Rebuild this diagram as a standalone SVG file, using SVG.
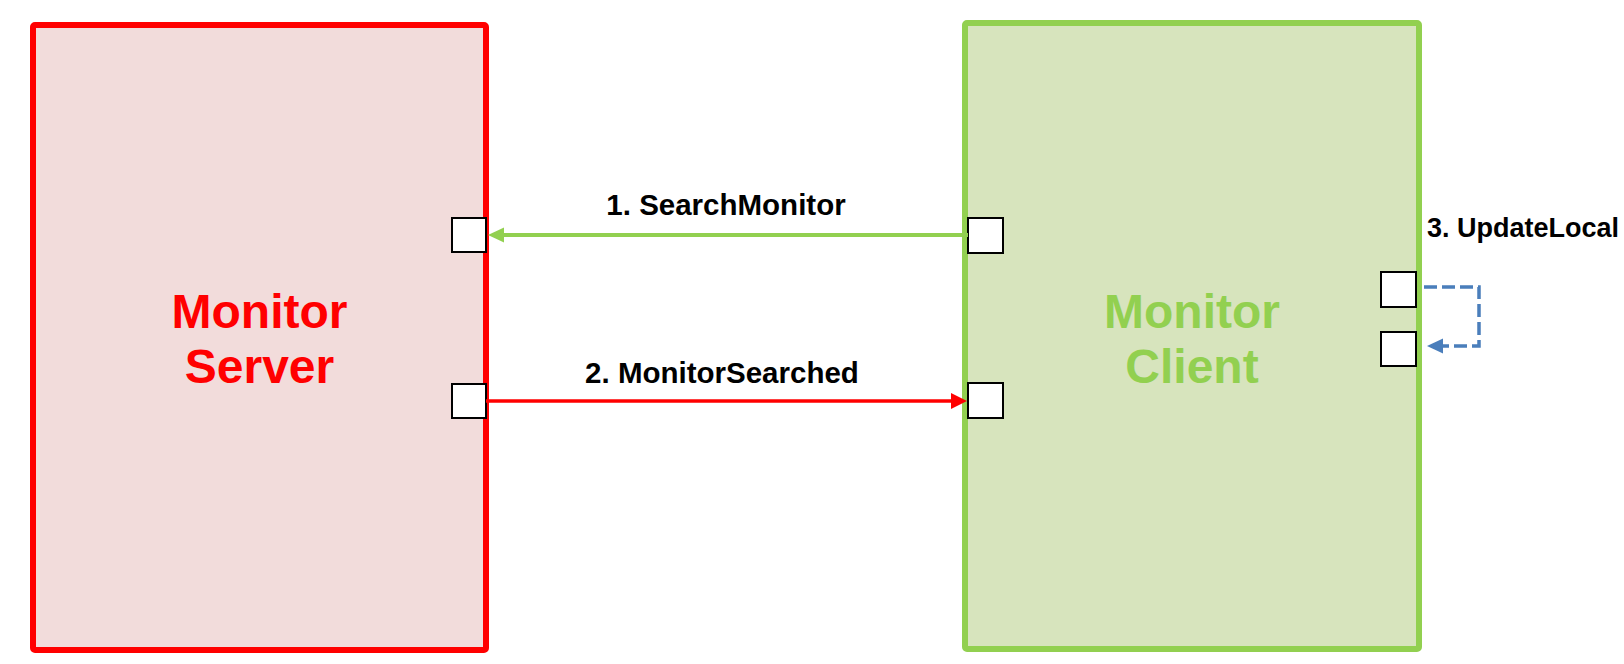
<svg xmlns="http://www.w3.org/2000/svg" width="1624" height="664" viewBox="0 0 1624 664">
<style>
.port{fill:#ffffff;stroke:#000000;stroke-width:2}
.lbl{font-family:"Liberation Sans",Arial,Helvetica,sans-serif;font-weight:bold;font-size:29.5px;fill:#000000}
.title{font-family:"Liberation Sans",Arial,Helvetica,sans-serif;font-weight:bold;font-size:48px;text-anchor:middle}
</style>
<rect width="1624" height="664" fill="#ffffff"/>
<g id="server">
<rect x="33" y="25" width="453" height="625" rx="2" fill="#f2dcdb" stroke="#ff0000" stroke-width="6"/>
<text class="title" fill="#ff0000" x="259.5" y="328">Monitor</text>
<text class="title" fill="#ff0000" x="259.5" y="383">Server</text>
<rect class="port" x="452" y="218" width="34" height="34"/>
<rect class="port" x="452" y="384" width="34" height="34"/>
</g>
<g id="client">
<rect x="965" y="23" width="454" height="626" rx="2" fill="#d7e4bd" stroke="#92d050" stroke-width="6"/>
<text class="title" fill="#92d050" x="1192" y="328">Monitor</text>
<text class="title" fill="#92d050" x="1192" y="383">Client</text>
<rect class="port" x="968" y="218" width="35" height="35"/>
<rect class="port" x="968" y="383" width="35" height="35"/>
<rect class="port" x="1381" y="272" width="35" height="35"/>
<rect class="port" x="1381" y="332" width="35" height="34"/>
</g>
<g id="connectors">
<line x1="968" y1="235" x2="502" y2="235" stroke="#92d050" stroke-width="4"/>
<polygon points="488,235 504,227.5 504,242.5" fill="#92d050"/>
<line x1="486" y1="401" x2="953" y2="401" stroke="#ff0000" stroke-width="3.5"/>
<polygon points="967,401 951,393 951,409" fill="#ff0000"/>
<path d="M1424,287 H1479 V346 H1443" fill="none" stroke="#4a7ebb" stroke-width="3.5" stroke-dasharray="13,5"/>
<polygon points="1427,346 1443,338.5 1443,353.5" fill="#4a7ebb"/>
</g>
<g id="labels">
<text class="lbl" x="726" y="215" text-anchor="middle">1. SearchMonitor</text>
<text class="lbl" x="722" y="383" text-anchor="middle">2. MonitorSearched</text>
<text class="lbl" x="1427" y="237" style="font-size:27px">3. UpdateLocal</text>
</g>
</svg>
